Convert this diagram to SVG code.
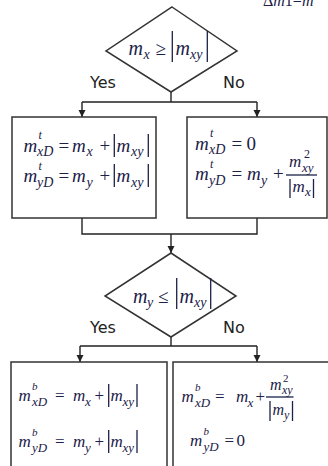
<svg xmlns="http://www.w3.org/2000/svg" width="328" height="466" viewBox="0 0 328 466">
<defs>
<style>
.m{font-family:"Liberation Serif",serif;font-style:italic;fill:#1b2148}
.r{font-family:"Liberation Serif",serif;font-style:normal;fill:#1b2148}
.lbl{font-family:"DejaVu Sans",sans-serif;font-size:16px;fill:#222}
.shape{fill:#fff;stroke:#333;stroke-width:1.5}
.bar{stroke:#1b2148;stroke-width:1.3}
.conn{stroke:#222;stroke-width:1.4;fill:none}
.f19{font-size:19px}.f17{font-size:17px}.f20{font-size:20px}
.s14{font-size:14px}.s13{font-size:13px}.s12{font-size:12px}.s11{font-size:11px}
</style>
<marker id="arr" markerWidth="8" markerHeight="8" refX="7" refY="3.5" orient="auto" markerUnits="userSpaceOnUse">
<path d="M0,0 L7,3.5 L0,7 z" fill="#222"/>
</marker>
</defs>
<rect width="328" height="466" fill="#fff"/>
<text class="r" x="263" y="6" font-size="16">Δ<tspan class="m">m</tspan>1=<tspan class="m">m</tspan></text>

<g id="connectors">
<path class="conn" d="M171,92 V102 M82,102 H257"/>
<path class="conn" d="M82,102 V117" marker-end="url(#arr)"/>
<path class="conn" d="M257,102 V117" marker-end="url(#arr)"/>
<path class="conn" d="M82,218 V234 H257 V218"/>
<path class="conn" d="M171,234 V253" marker-end="url(#arr)"/>
<path class="conn" d="M171,337 V346 M80,346 H257"/>
<path class="conn" d="M80,346 V362" marker-end="url(#arr)"/>
<path class="conn" d="M257,346 V362" marker-end="url(#arr)"/>
</g>

<g id="decision1">
<polygon class="shape" points="172,7 237,51 171,92 106,51"/>
<text class="m f20" x="128.5" y="55">m<tspan class="s14" x="143.5" y="59">x</tspan><tspan class="r f19" x="155.5" y="55">≥</tspan></text>
<line class="bar" x1="172.3" y1="31" x2="172.3" y2="62"/>
<text class="m f20" x="175.5" y="55">m<tspan class="s14" x="190" y="59">xy</tspan></text>
<line class="bar" x1="207.3" y1="31" x2="207.3" y2="62"/>
<text class="lbl" x="90" y="88">Yes</text>
<text class="lbl" x="223" y="88">No</text>
</g>

<g id="box1">
<rect class="shape" x="12" y="117" width="144" height="101"/>
<text class="m f19" x="23.5" y="152">m<tspan class="s12" x="38.5" y="139">t</tspan><tspan class="s14" x="37" y="156">xD</tspan><tspan class="r" x="58.5" y="152">=</tspan><tspan x="72" y="152">m</tspan><tspan class="s14" x="86.5" y="156">x</tspan><tspan class="r" x="99.5" y="152">+</tspan></text>
<line class="bar" x1="114.3" y1="134" x2="114.3" y2="157"/>
<text class="m f19" x="116.5" y="152">m<tspan class="s14" x="131" y="156">xy</tspan></text>
<line class="bar" x1="148.3" y1="134" x2="148.3" y2="157"/>
<text class="m f19" x="23.5" y="182">m<tspan class="s12" x="38.5" y="170">t</tspan><tspan class="s14" x="37" y="187">yD</tspan><tspan class="r" x="58.5" y="182">=</tspan><tspan x="72" y="182">m</tspan><tspan class="s14" x="86.5" y="187">y</tspan><tspan class="r" x="99.5" y="182">+</tspan></text>
<line class="bar" x1="114.3" y1="164" x2="114.3" y2="187"/>
<text class="m f19" x="116.5" y="182">m<tspan class="s14" x="131" y="187">xy</tspan></text>
<line class="bar" x1="148.3" y1="164" x2="148.3" y2="187"/>
</g>

<g id="box2">
<rect class="shape" x="187" y="117" width="140" height="101"/>
<text class="m f19" x="195" y="150">m<tspan class="s12" x="210" y="137">t</tspan><tspan class="s14" x="209" y="154">xD</tspan><tspan class="r" x="231.5" y="150">=</tspan><tspan class="r" x="246.5" y="150">0</tspan></text>
<text class="m f19" x="195" y="180">m<tspan class="s12" x="210" y="168">t</tspan><tspan class="s14" x="209" y="185">yD</tspan><tspan class="r" x="231.5" y="180">=</tspan><tspan x="247" y="180">m</tspan><tspan class="s14" x="261" y="185">y</tspan><tspan class="r" x="273" y="180">+</tspan></text>
<line class="bar" x1="286" y1="175" x2="317" y2="175"/>
<text class="m f17" x="289" y="167">m<tspan class="r s12" x="304" y="158">2</tspan><tspan class="s13" x="302" y="172">xy</tspan></text>
<line class="bar" x1="290" y1="179" x2="290" y2="198"/>
<text class="m f17" x="292.5" y="192">m<tspan class="s13" x="305" y="196">x</tspan></text>
<line class="bar" x1="313.5" y1="179" x2="313.5" y2="198"/>
</g>

<g id="decision2">
<polygon class="shape" points="171,253 236,296 171,337 105,296"/>
<text class="m f20" x="133" y="303">m<tspan class="s14" x="147" y="307">y</tspan><tspan class="r f19" x="158" y="303">≤</tspan></text>
<line class="bar" x1="176.7" y1="278" x2="176.7" y2="309"/>
<text class="m f20" x="179.5" y="303">m<tspan class="s14" x="194" y="307">xy</tspan></text>
<line class="bar" x1="210.7" y1="278" x2="210.7" y2="309"/>
<text class="lbl" x="90" y="333">Yes</text>
<text class="lbl" x="223" y="333">No</text>
</g>

<g id="box3">
<rect class="shape" x="11" y="362" width="156" height="120"/>
<text class="m f17" x="18.5" y="401">m<tspan class="s11" x="32" y="390">b</tspan><tspan class="s13" x="32" y="406">xD</tspan><tspan class="r" x="55" y="401">=</tspan><tspan x="73" y="401">m</tspan><tspan class="s13" x="85" y="406">x</tspan><tspan class="r" x="94.5" y="401">+</tspan></text>
<line class="bar" x1="108.7" y1="384" x2="108.7" y2="407"/>
<text class="m f17" x="110.5" y="401">m<tspan class="s13" x="122.5" y="406">xy</tspan></text>
<line class="bar" x1="137" y1="384" x2="137" y2="407"/>
<text class="m f17" x="18.5" y="447">m<tspan class="s11" x="32" y="436">b</tspan><tspan class="s13" x="32" y="452">yD</tspan><tspan class="r" x="55" y="447">=</tspan><tspan x="73" y="447">m</tspan><tspan class="s13" x="85" y="452">y</tspan><tspan class="r" x="94.5" y="447">+</tspan></text>
<line class="bar" x1="108.7" y1="430" x2="108.7" y2="453"/>
<text class="m f17" x="110.5" y="447">m<tspan class="s13" x="122.5" y="452">xy</tspan></text>
<line class="bar" x1="137" y1="430" x2="137" y2="453"/>
</g>

<g id="box4">
<rect class="shape" x="173" y="362" width="170" height="120"/>
<text class="m f17" x="181.5" y="402">m<tspan class="s11" x="195" y="391">b</tspan><tspan class="s13" x="195" y="407">xD</tspan><tspan class="r" x="215" y="402">=</tspan><tspan x="236" y="402">m</tspan><tspan class="s13" x="247.5" y="407">x</tspan><tspan class="r" x="255.5" y="402">+</tspan></text>
<line class="bar" x1="266" y1="397" x2="293.5" y2="397"/>
<text class="m" font-size="16" x="270" y="390">m<tspan class="r s11" x="283" y="382">2</tspan><tspan class="s12" x="282" y="394">xy</tspan></text>
<line class="bar" x1="270" y1="401" x2="270" y2="421"/>
<text class="m" font-size="16" x="272.5" y="415">m<tspan class="s12" x="284" y="419">y</tspan></text>
<line class="bar" x1="292.5" y1="401" x2="292.5" y2="421"/>
<text class="m f17" x="190" y="446">m<tspan class="s11" x="203.5" y="435">b</tspan><tspan class="s13" x="203.5" y="451">yD</tspan><tspan class="r" x="224.5" y="446">=</tspan><tspan class="r" x="236.5" y="446">0</tspan></text>
</g>
</svg>
